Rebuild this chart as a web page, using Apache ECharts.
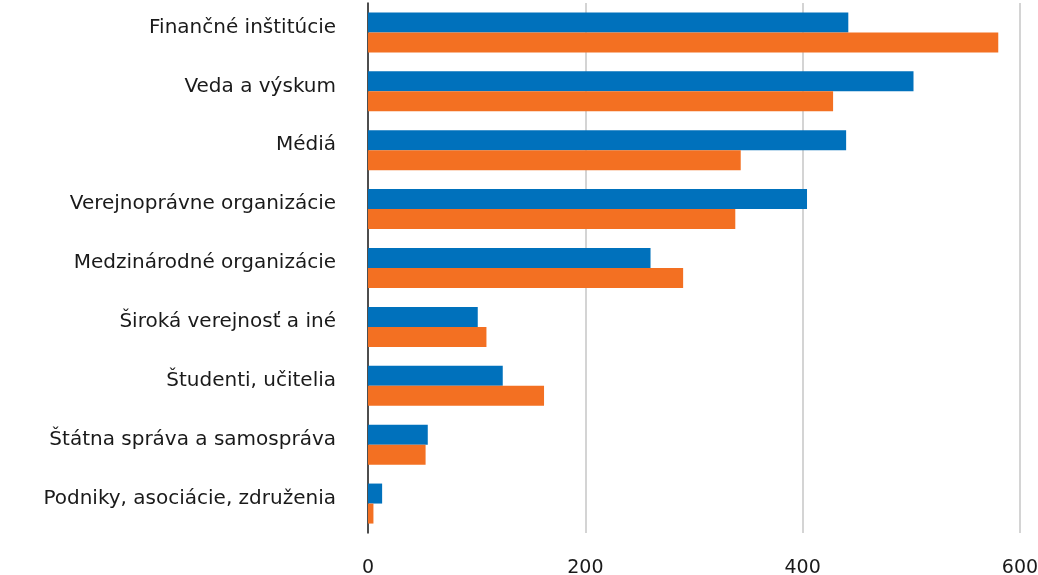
<!DOCTYPE html>
<html>
<head>
<meta charset="utf-8">
<script src="https://cdn.jsdelivr.net/npm/echarts@6/dist/echarts.min.js"></script>
<style>
  html, body { margin: 0; padding: 0; background: #fff; }
  #chart { width: 1038px; height: 575px; }
</style>
</head>
<body>
<div id="chart"></div>
<script>
// kategórie (zhora nadol)
var categories = [
    'Finančné inštitúcie',
    'Veda a výskum',
    'Médiá',
    'Verejnoprávne organizácie',
    'Medzinárodné organizácie',
    'Široká verejnosť a iné',
    'Študenti, učitelia',
    'Štátna správa a samospráva',
    'Podniky, asociácie, združenia'
];

// modrá séria
var blueValues = [442, 502, 440, 404, 260, 101, 124, 55, 13];
// oranžová séria
var orangeValues = [580, 428, 343, 338, 290, 109, 162, 53, 5];

var xTicks = [0, 200, 400, 600];

window.onload = function () {
    var chart = echarts.init(document.getElementById('chart'));

    var option = {
        animation: false,
        grid: {
            left: 368,
            right: 18,
            top: 3,
            bottom: 42,
            outerBoundsMode: 'none'
        },
        xAxis: {
            type: 'value',
            min: xTicks[0],
            max: xTicks[xTicks.length - 1],
            interval: 200,
            axisLine: { show: false },
            axisTick: { show: false },
            axisLabel: {
                margin: 26,
                color: '#1a1a1a',
                fontFamily: 'DejaVu Sans',
                fontSize: 19
            },
            splitLine: {
                lineStyle: { color: '#d4d4d4', width: 2 }
            }
        },
        yAxis: {
            type: 'category',
            inverse: true,
            data: categories,
            axisLine: {
                lineStyle: { color: '#222', width: 1.5 }
            },
            axisTick: { show: false },
            axisLabel: {
                margin: 32,
                color: '#1a1a1a',
                fontFamily: 'DejaVu Sans',
                fontSize: 20,
                verticalAlign: 'bottom',
                lineHeight: 10
            }
        },
        series: [
            {
                type: 'bar',
                data: blueValues,
                barWidth: 20,
                barGap: '0%',
                itemStyle: { color: '#0071bc' }
            },
            {
                type: 'bar',
                data: orangeValues,
                barWidth: 20,
                itemStyle: { color: '#f37022' }
            }
        ]
    };

    chart.setOption(option);
};
</script>
</body>
</html>
